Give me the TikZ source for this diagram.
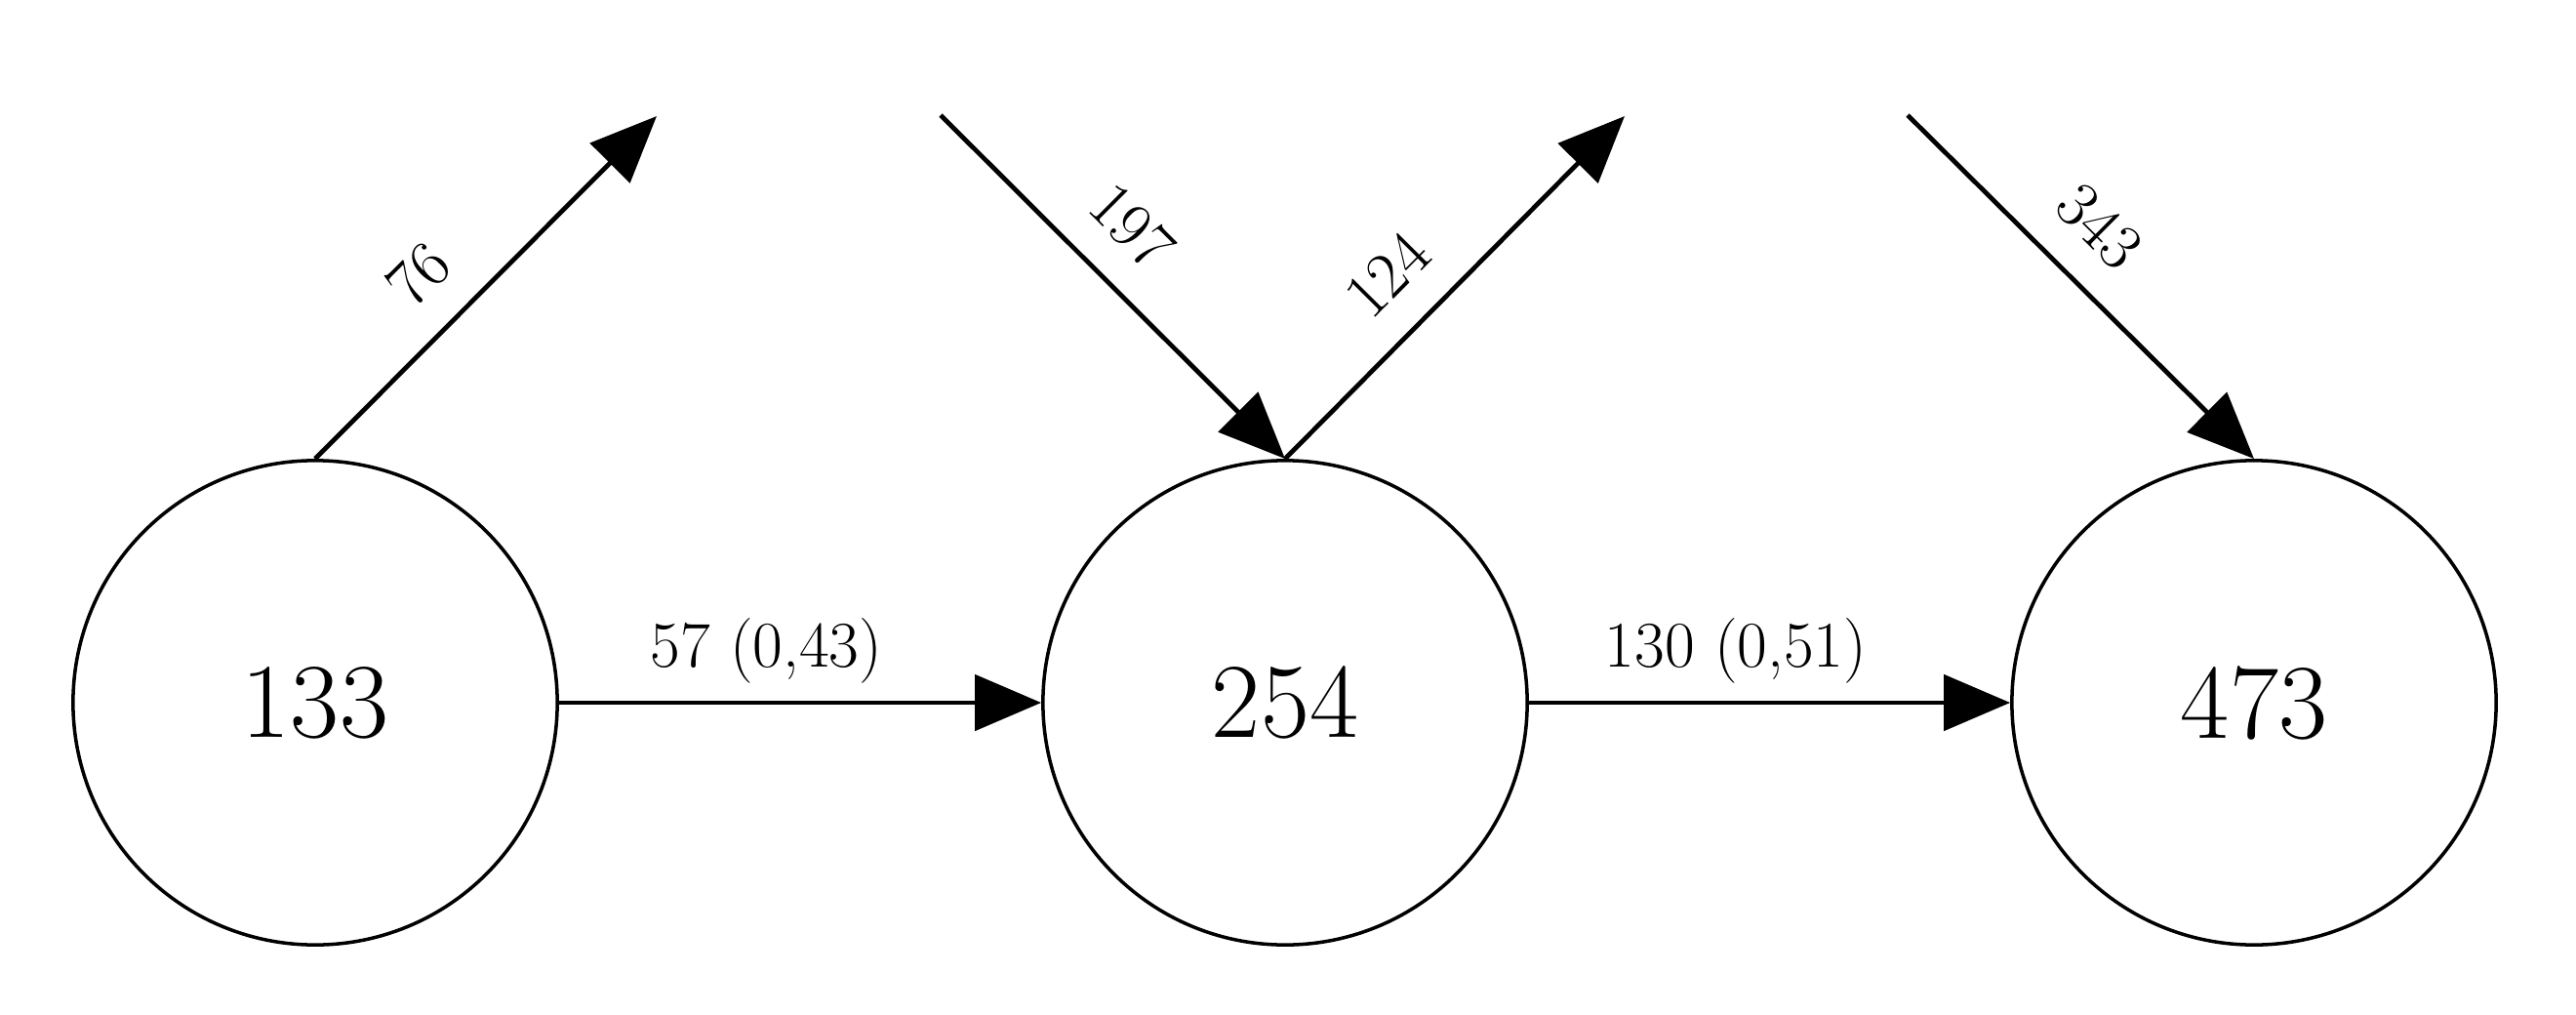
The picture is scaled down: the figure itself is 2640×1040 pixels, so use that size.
\documentclass[tikz,border=0pt]{standalone}
\usetikzlibrary{arrows.meta}
\begin{document}
\begin{tikzpicture}[x=0.01cm,y=-0.01cm,
  state/.style={circle,draw,line width=1pt,minimum size=4.96cm,inner sep=0pt,font=\fontsize{31}{36}\selectfont},
  flow/.style={line width=1.35pt,-{Triangle[length=0.68cm,width=0.57cm]}},
  lbl/.style={font=\fontsize{19}{23}\selectfont,inner sep=0pt}]
\useasboundingbox (0,0) rectangle (2640,1040);
\node[state] (n1) at (323,720) {133};
\node[state] (n2) at (1317,720) {254};
\node[state] (n3) at (2310,720) {473};
\coordinate (o1) at (673,119);
\coordinate (i2) at (964,118);
\coordinate (o2) at (1665,119);
\coordinate (i3) at (1955,118);
\draw[flow] (n1.east) -- node[lbl,pos=.43,above=0.36cm,anchor=base] {57 (0,43)} (n2.west);
\draw[flow] (n2.east) -- node[lbl,pos=.43,above=0.36cm,anchor=base] {130 (0,51)} (n3.west);
\draw[flow] (n1.north) -- node[lbl,sloped,pos=.42,above=0.36cm,anchor=base] {76} (o1);
\draw[flow] (i2) -- node[lbl,sloped,pos=.44,above=0.36cm,anchor=base] {197} (n2.north);
\draw[flow] (n2.north) -- node[lbl,sloped,pos=.42,above=0.36cm,anchor=base] {124} (o2);
\draw[flow] (i3) -- node[lbl,sloped,pos=.44,above=0.36cm,anchor=base] {343} (n3.north);
\end{tikzpicture}
\end{document}
